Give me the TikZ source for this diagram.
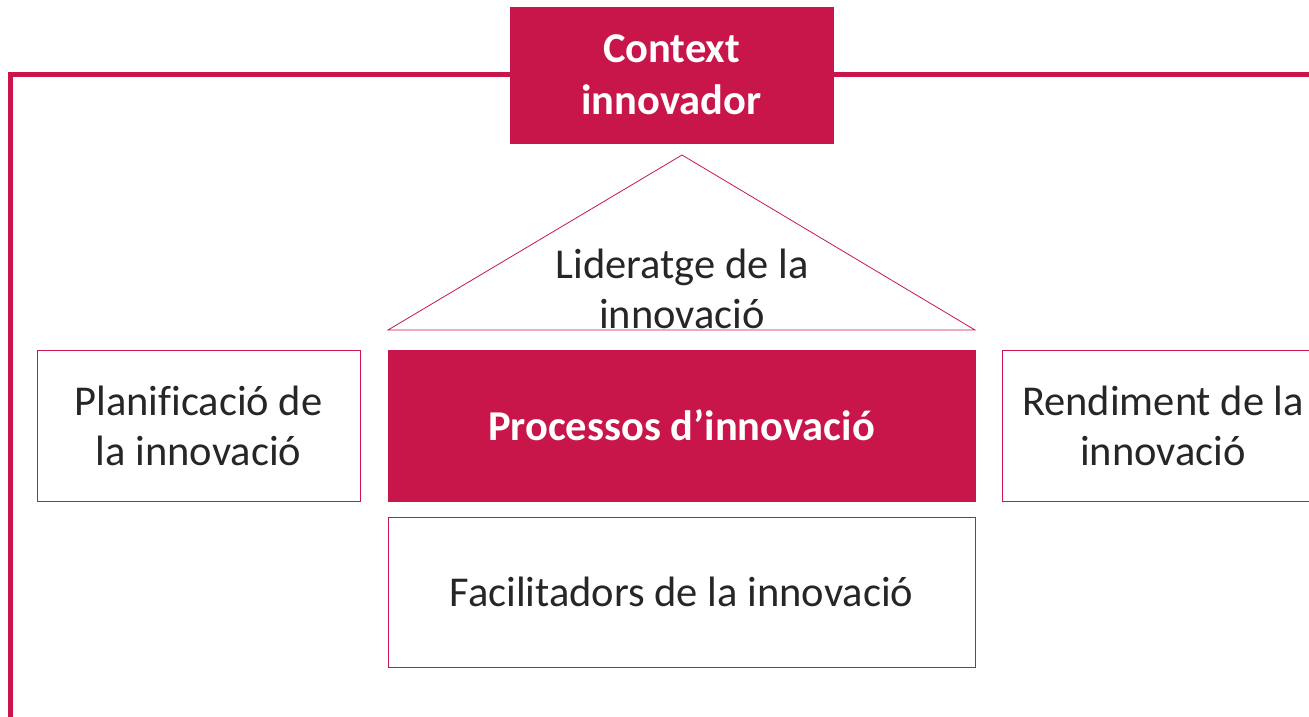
\documentclass[tikz,border=0pt]{standalone}
\usepackage{fontspec}
\setmainfont{Carlito}[Ligatures=NoCommon]
\usepackage{xcolor}
\definecolor{Crimson Red}{HTML}{C8164A}
\definecolor{Dark Text}{HTML}{262626}
\colorlet{cRed}{Crimson Red}
\colorlet{cText}{Dark Text}
\usetikzlibrary{positioning}
\tikzset{
	line width=.8pt,
	block/.style={
		draw=cRed,
		line width=.8pt,
		minimum width=323pt,
		minimum height=151pt,
		align=center,
		inner sep=0pt
	},
	filled block/.style={
		block,
		fill=cRed,
		text=white,
		font=\fontsize{42.5}{52}\selectfont\bfseries
	},
	frame/.style={
		draw=cRed,
		line width=5pt
	},
	roof/.style={
		draw=cRed,
		line width=.8pt
	}
}

\begin{document}
\begin{tikzpicture}[x=1pt, y=-1pt, font=\fontsize{42.5}{50}\selectfont, text=cText]
		\useasboundingbox (0,0) rectangle (1309,717);
		\clip (0,0) rectangle (1309,717);

		\coordinate (f0) at (10.5,730);
		\coordinate (f1) at (10.5,74.5);
		\coordinate (f2) at (1320,74.5);
		\draw[frame] (f0) -- (f1) -- (f2);

		\node[filled block, minimum height=136pt] (context) at (671.5,75) {Context\\innovador};

		\coordinate (t0) at (388,330);
		\coordinate (t1) at (682,155);
		\coordinate (t2) at (975,330);
		\draw[roof] (t0) -- (t1) -- (t2) -- cycle;
		\node[align=center] (lead) at (682,289) {Lideratge de la\\innovació};

		\node[block] (plan) at (198.5,425.5) {Planificació de\\la innovació};
		\node[filled block, minimum width=587pt] (proc) at (681.5,425.5) {Processos d’innovació};
		\node[block, minimum width=322pt] (rend) at (1163,425.5) {Rendiment de la\\innovació};
		\node[block, minimum width=587pt, minimum height=150pt] (facil) at (681.5,592) {Facilitadors de la innovació};
	\end{tikzpicture}
\end{document}
